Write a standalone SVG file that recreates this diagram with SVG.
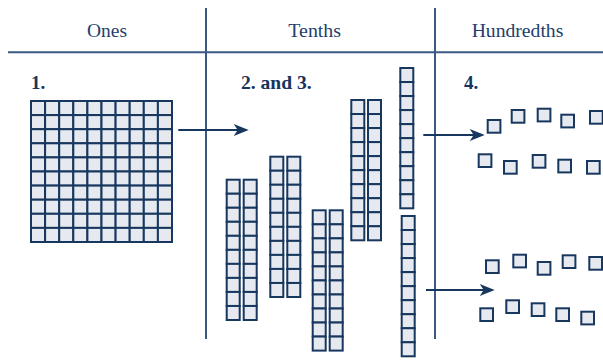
<svg xmlns="http://www.w3.org/2000/svg" xmlns:xlink="http://www.w3.org/1999/xlink" width="603" height="360" viewBox="0 0 603 360">
  <style>
    .rule { stroke: #3a5882; stroke-width: 2; fill: none; }
    .head { font-family: "Liberation Serif", "Times New Roman", serif; font-size: 18px; fill: #22406b; text-anchor: middle; }
    .step { font-family: "Liberation Serif", "Times New Roman", serif; font-size: 19px; font-weight: bold; fill: #17345f; }
    .blk { fill: #e6e9ef; stroke: #17375f; stroke-width: 2; }
    .arrow { stroke: #17375f; stroke-width: 2; fill: none; marker-end: url(#tip); }
  </style>
  <defs>
    <marker id="tip" viewBox="-16 -7 17 14" refX="-4" refY="0" markerWidth="17" markerHeight="14" markerUnits="userSpaceOnUse" orient="auto">
      <path d="M0,0 L-15,-6 L-11,0 L-15,6 Z" fill="#17375f"/>
    </marker>
    <!-- one cell of a ones grid -->
    <rect id="gcell" class="blk" width="14.1" height="14.1"/>
    <!-- a tenth rod: ten stacked cells -->
    <g id="rod">
      <rect class="blk" x="0" y="0" width="13" height="14.03"/>
      <rect class="blk" x="0" y="14.03" width="13" height="14.03"/>
      <rect class="blk" x="0" y="28.06" width="13" height="14.03"/>
      <rect class="blk" x="0" y="42.09" width="13" height="14.03"/>
      <rect class="blk" x="0" y="56.12" width="13" height="14.03"/>
      <rect class="blk" x="0" y="70.15" width="13" height="14.03"/>
      <rect class="blk" x="0" y="84.18" width="13" height="14.03"/>
      <rect class="blk" x="0" y="98.21" width="13" height="14.03"/>
      <rect class="blk" x="0" y="112.24" width="13" height="14.03"/>
      <rect class="blk" x="0" y="126.27" width="13" height="14.03"/>
    </g>
    <!-- a row of ten grid cells -->
    <g id="grow">
      <use xlink:href="#gcell" x="0"/>
      <use xlink:href="#gcell" x="14.1"/>
      <use xlink:href="#gcell" x="28.2"/>
      <use xlink:href="#gcell" x="42.3"/>
      <use xlink:href="#gcell" x="56.4"/>
      <use xlink:href="#gcell" x="70.5"/>
      <use xlink:href="#gcell" x="84.6"/>
      <use xlink:href="#gcell" x="98.7"/>
      <use xlink:href="#gcell" x="112.8"/>
      <use xlink:href="#gcell" x="126.9"/>
    </g>
    <rect id="unit" class="blk" width="12.7" height="12.7"/>
  </defs>

  <!-- place-value table rules -->
  <g id="table">
    <line class="rule" x1="8" y1="52.3" x2="603" y2="52.3"/>
    <line class="rule" x1="206" y1="8" x2="206" y2="339"/>
    <line class="rule" x1="435" y1="8" x2="435" y2="339"/>
  </g>

  <!-- column headings -->
  <g id="headings">
    <text class="head" x="107" y="37" textLength="40" lengthAdjust="spacingAndGlyphs">Ones</text>
    <text class="head" x="314.7" y="37" textLength="52.7" lengthAdjust="spacingAndGlyphs">Tenths</text>
    <text class="head" x="517.5" y="37" textLength="91.7" lengthAdjust="spacingAndGlyphs">Hundredths</text>
  </g>

  <!-- step labels -->
  <g id="steps">
    <text class="step" x="31" y="89.3">1.</text>
    <text class="step" x="241" y="89.3" textLength="70.7" lengthAdjust="spacingAndGlyphs">2. and 3.</text>
    <text class="step" x="464" y="89.3">4.</text>
  </g>

  <!-- one whole: 10 x 10 grid -->
  <g id="ones-grid" transform="translate(31,101)">
    <use xlink:href="#grow" y="0"/>
    <use xlink:href="#grow" y="14.1"/>
    <use xlink:href="#grow" y="28.2"/>
    <use xlink:href="#grow" y="42.3"/>
    <use xlink:href="#grow" y="56.4"/>
    <use xlink:href="#grow" y="70.5"/>
    <use xlink:href="#grow" y="84.6"/>
    <use xlink:href="#grow" y="98.7"/>
    <use xlink:href="#grow" y="112.8"/>
    <use xlink:href="#grow" y="126.9"/>
  </g>

  <!-- tenths: pairs of rods -->
  <g id="rods-a">
    <use xlink:href="#rod" x="226.7" y="179.7"/>
    <use xlink:href="#rod" x="243.7" y="179.7"/>
  </g>
  <g id="rods-b">
    <use xlink:href="#rod" x="270.3" y="156.7"/>
    <use xlink:href="#rod" x="287.3" y="156.7"/>
  </g>
  <g id="rods-c">
    <use xlink:href="#rod" x="312.7" y="210.3"/>
    <use xlink:href="#rod" x="329.7" y="210.3"/>
  </g>
  <g id="rods-d">
    <use xlink:href="#rod" x="351.3" y="100"/>
    <use xlink:href="#rod" x="368" y="100"/>
  </g>
  <g id="rod-e">
    <use xlink:href="#rod" x="400.3" y="68"/>
  </g>
  <g id="rod-f">
    <use xlink:href="#rod" x="401.7" y="216"/>
  </g>

  <!-- hundredths: loose unit squares -->
  <g id="units-1">
    <use xlink:href="#unit" x="487.7" y="120"/>
    <use xlink:href="#unit" x="511.7" y="110"/>
    <use xlink:href="#unit" x="537.7" y="108.7"/>
    <use xlink:href="#unit" x="561.3" y="114.7"/>
    <use xlink:href="#unit" x="590" y="111"/>
  </g>
  <g id="units-2">
    <use xlink:href="#unit" x="478.7" y="154.3"/>
    <use xlink:href="#unit" x="504" y="161"/>
    <use xlink:href="#unit" x="532.7" y="155"/>
    <use xlink:href="#unit" x="558.3" y="159.7"/>
    <use xlink:href="#unit" x="587" y="161"/>
  </g>
  <g id="units-3">
    <use xlink:href="#unit" x="486" y="260.3"/>
    <use xlink:href="#unit" x="513.3" y="254.7"/>
    <use xlink:href="#unit" x="537.7" y="262"/>
    <use xlink:href="#unit" x="562.7" y="255.3"/>
    <use xlink:href="#unit" x="589.3" y="257"/>
  </g>
  <g id="units-4">
    <use xlink:href="#unit" x="480.3" y="308.3"/>
    <use xlink:href="#unit" x="506.3" y="300.3"/>
    <use xlink:href="#unit" x="531.7" y="303.3"/>
    <use xlink:href="#unit" x="556.3" y="308.3"/>
    <use xlink:href="#unit" x="581.3" y="311.7"/>
  </g>

  <!-- regrouping arrows -->
  <g id="connectors">
    <line class="arrow" x1="178.3" y1="130" x2="244.7" y2="130"/>
    <line class="arrow" x1="423.3" y1="135" x2="480.7" y2="135"/>
    <line class="arrow" x1="426" y1="290" x2="490.7" y2="290"/>
  </g>
</svg>
